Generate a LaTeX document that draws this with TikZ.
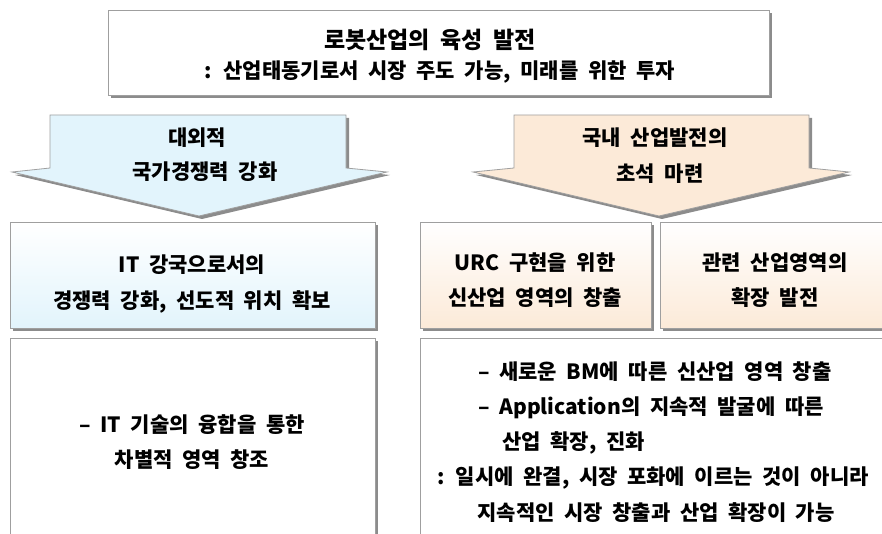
\documentclass[tikz,border=0pt]{standalone}
\usepackage{fontspec}
\setmainfont{Noto Sans CJK KR}[WordSpace=2]
\usetikzlibrary{shadows}
\definecolor{azul}{RGB}{226,244,252}
\definecolor{pele}{RGB}{252,234,216}
\tikzset{
  caixa/.style={draw=gray!75, line width=0.8pt,
    drop shadow={shadow xshift=3pt, shadow yshift=-3pt, fill=gray!90, opacity=1}},
  texto/.style={font=\bfseries\fontsize{21}{25}\selectfont, inner sep=0pt},
  titulo/.style={font=\bfseries\fontsize{23}{27}\selectfont, inner sep=0pt}
}
\begin{document}
\begin{tikzpicture}[x=1pt,y=-1pt]
\useasboundingbox (0,0) rectangle (882,534);
\clip (0,0) rectangle (882,534);
%caixa do topo
 \draw[caixa, fill=white] (108,10) rectangle (769,95);
 \node[titulo] (tit) at (430,40) {로봇산업의 육성 발전};
 \node[texto] (sub) at (440,72) {: 산업태동기로서 시장 주도 가능, 미래를 위한 투자};
%setas largas
 \draw[caixa, fill=azul] (50,115) -- (346,115) -- (346,168) -- (387,172) -- (199,216) -- (12,172) -- (50,168) -- cycle;
 \draw[caixa, fill=pele] (514,115) -- (809,115) -- (809,168) -- (849,172) -- (659,216) -- (473,172) -- (514,168) -- cycle;
 \node[texto] (ext1) at (197,138) {대외적};
 \node[texto] (ext2) at (205,172) {국가경쟁력 강화};
 \node[texto] (dom1) at (655,138) {국내 산업발전의};
 \node[texto] (dom2) at (660,174) {초석 마련};
%caixas do meio (degradê)
 \draw[caixa, top color=white, bottom color=azul] (10,222) rectangle (375,328);
 \draw[caixa, top color=white, bottom color=pele] (420,222) rectangle (651,328);
 \draw[caixa, top color=white, bottom color=pele] (660,222) rectangle (900,328);
 \node[texto] (it1) at (192,265) {IT 강국으로서의};
 \node[texto] (it2) at (192,302) {경쟁력 강화, 선도적 위치 확보};
 \node[texto] (urc1) at (535,263) {URC 구현을 위한};
 \node[texto] (urc2) at (535,298) {신산업 영역의 창출};
 \node[texto] (rel1) at (775,263) {관련 산업영역의};
 \node[texto] (rel2) at (775,298) {확장 발전};
%caixas de baixo
 \draw[caixa, fill=white] (10,338) rectangle (375,560);
 \draw[caixa, fill=white] (420,338) rectangle (900,560);
 \node[texto] (fus1) at (192,425) {– IT 기술의 융합을 통한};
 \node[texto] (fus2) at (192,460) {차별적 영역 창조};
 \node[texto, anchor=west] (bm1) at (478,372) {– 새로운 BM에 따른 신산업 영역 창출};
 \node[texto, anchor=west] (bm2) at (478,408) {– Application의 지속적 발굴에 따른};
 \node[texto, anchor=west] (bm3) at (502,443) {산업 확장, 진화};
 \node[texto] (bm4) at (653,478) {: 일시에 완결, 시장 포화에 이르는 것이 아니라};
 \node[texto] (bm5) at (656,513) {지속적인 시장 창출과 산업 확장이 가능};
\end{tikzpicture}
\end{document}
